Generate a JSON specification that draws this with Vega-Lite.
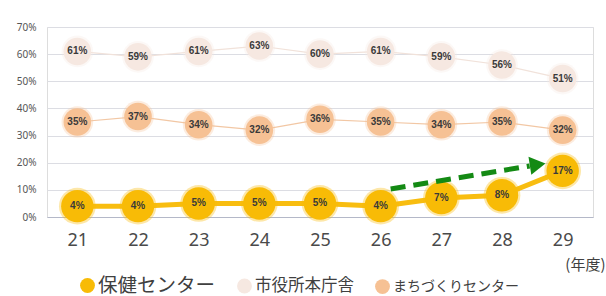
{
  "$schema": "https://vega.github.io/schema/vega-lite/v6.json",
  "autosize": "none",
  "width": 546,
  "height": 190,
  "padding": {"left": 47, "top": 27, "right": 13, "bottom": 79},
  "background": "white",
  "datasets": {
    "main": [
      {"year": "21", "series": "保健センター", "value": 0.04},
      {"year": "22", "series": "保健センター", "value": 0.04},
      {"year": "23", "series": "保健センター", "value": 0.05},
      {"year": "24", "series": "保健センター", "value": 0.05},
      {"year": "25", "series": "保健センター", "value": 0.05},
      {"year": "26", "series": "保健センター", "value": 0.04},
      {"year": "27", "series": "保健センター", "value": 0.07},
      {"year": "28", "series": "保健センター", "value": 0.08},
      {"year": "29", "series": "保健センター", "value": 0.17},
      {"year": "21", "series": "市役所本庁舎", "value": 0.61},
      {"year": "22", "series": "市役所本庁舎", "value": 0.59},
      {"year": "23", "series": "市役所本庁舎", "value": 0.61},
      {"year": "24", "series": "市役所本庁舎", "value": 0.63},
      {"year": "25", "series": "市役所本庁舎", "value": 0.60},
      {"year": "26", "series": "市役所本庁舎", "value": 0.61},
      {"year": "27", "series": "市役所本庁舎", "value": 0.59},
      {"year": "28", "series": "市役所本庁舎", "value": 0.56},
      {"year": "29", "series": "市役所本庁舎", "value": 0.51},
      {"year": "21", "series": "まちづくりセンター", "value": 0.35},
      {"year": "22", "series": "まちづくりセンター", "value": 0.37},
      {"year": "23", "series": "まちづくりセンター", "value": 0.34},
      {"year": "24", "series": "まちづくりセンター", "value": 0.32},
      {"year": "25", "series": "まちづくりセンター", "value": 0.36},
      {"year": "26", "series": "まちづくりセンター", "value": 0.35},
      {"year": "27", "series": "まちづくりセンター", "value": 0.34},
      {"year": "28", "series": "まちづくりセンター", "value": 0.35},
      {"year": "29", "series": "まちづくりセンター", "value": 0.32}
    ],
    "arrow": [
      {"year": "26", "value": 0.103, "year2": "29", "value2": 0.188}
    ],
    "arrowhead": [
      {"year": "29", "value": 0.193}
    ]
  },
  "encoding": {
    "x": {
      "field": "year", "type": "ordinal",
      "scale": {"type": "point", "padding": 0.5, "domain": ["21","22","23","24","25","26","27","28","29"]},
      "axis": {
        "title": "(年度)", "titleFont": "Noto Sans CJK JP", "titleFontSize": 15, "titleFontWeight": "normal",
        "titleColor": "#404040", "titleAlign": "right", "titleAnchor": null, "titleX": 558, "titleY": 47,
        "titleBaseline": "middle",
        "labelAngle": 0, "labelFont": "Noto Sans", "labelFontSize": 18, "labelColor": "#4a4a4a",
        "labelPadding": 14, "ticks": false, "domain": true, "domainColor": "#b4b8c8", "domainWidth": 1.2, "grid": false
      }
    },
    "y": {
      "field": "value", "type": "quantitative",
      "scale": {"domain": [0, 0.7], "nice": false, "zero": true},
      "axis": {
        "title": null, "format": ".0%", "values": [0, 0.1, 0.2, 0.3, 0.4, 0.5, 0.6, 0.7],
        "labelFont": "Noto Sans", "labelFontSize": 10, "labelColor": "#555555", "labelPadding": 11,
        "ticks": false, "domain": false, "grid": true, "gridColor": "#dcdde3", "gridWidth": 1
      }
    }
  },
  "layer": [
    {
      "data": {"name": "main"},
      "transform": [{"filter": "datum.series === '市役所本庁舎'"}],
      "mark": {"type": "line", "color": "#f1e2da", "strokeWidth": 1.2},
      "encoding": {}
    },
    {
      "data": {"name": "main"},
      "transform": [{"filter": "datum.series === 'まちづくりセンター'"}],
      "mark": {"type": "line", "color": "#f2c7a4", "strokeWidth": 1.2},
      "encoding": {}
    },
    {
      "data": {"name": "main"},
      "transform": [{"filter": "datum.series === '保健センター'"}],
      "mark": {"type": "line", "color": "#f8bd10", "strokeWidth": 5},
      "encoding": {}
    },
    {
      "data": {"name": "main"},
      "transform": [{"filter": "datum.series !== '保健センター'"}],
      "mark": {"type": "point", "filled": true, "shape": "circle", "opacity": 0.3, "size": 1000},
      "encoding": {
        "color": {"field": "series", "type": "nominal"}
      }
    },
    {
      "data": {"name": "main"},
      "transform": [{"filter": "datum.series === '保健センター'"}],
      "mark": {"type": "point", "filled": true, "shape": "circle", "opacity": 0.35, "size": 1350},
      "encoding": {
        "color": {"field": "series", "type": "nominal"}
      }
    },
    {
      "data": {"name": "main"},
      "transform": [{"filter": "datum.series !== '保健センター'"}],
      "mark": {"type": "point", "filled": true, "shape": "circle", "opacity": 1, "size": 760},
      "encoding": {
        "color": {"field": "series", "type": "nominal"}
      }
    },
    {
      "data": {"name": "main"},
      "transform": [{"filter": "datum.series === '保健センター'"}],
      "mark": {"type": "point", "filled": true, "shape": "circle", "opacity": 1, "size": 1050},
      "encoding": {
        "color": {
          "field": "series", "type": "nominal",
          "scale": {"domain": ["保健センター", "市役所本庁舎", "まちづくりセンター"], "range": ["#f8bb06", "#f6e8e1", "#f6c194"]},
          "legend": {
            "title": null, "orient": "none", "direction": "horizontal", "legendX": 33, "legendY": 251,
            "symbolType": "circle", "symbolSize": 220, "symbolStrokeWidth": 0, "symbolOpacity": 1,
            "labelFont": "Noto Sans CJK JP", "labelFontSize": 15, "labelColor": "#404040", "labelOffset": 3,
            "columnPadding": 21, "labelLimit": 300,
            "encode": {
              "labels": {"update": {"fontSize": {"signal": "datum.label === '保健センター' ? 19.5 : (datum.label === '市役所本庁舎' ? 16.5 : 14)"}}}
            }
          }
        }
      }
    },
    {
      "data": {"name": "main"},
      "mark": {"type": "text", "font": "Liberation Sans", "fontWeight": "bold", "fontSize": 10, "color": "#3a3a3a", "baseline": "middle", "align": "center"},
      "encoding": {
        "text": {"field": "value", "type": "quantitative", "format": ".0%"}
      }
    },
    {
      "data": {"name": "arrow"},
      "mark": {"type": "rule", "color": "#148a14", "strokeWidth": 5, "strokeDash": [15, 8], "xOffset": 10, "x2Offset": -33},
      "encoding": {
        "x2": {"field": "year2"},
        "y2": {"field": "value2"}
      }
    },
    {
      "data": {"name": "arrowhead"},
      "mark": {"type": "point", "shape": "triangle-right", "filled": true, "color": "#148a14", "opacity": 1, "size": 330, "angle": -9, "xOffset": -25},
      "encoding": {}
    }
  ]
}
